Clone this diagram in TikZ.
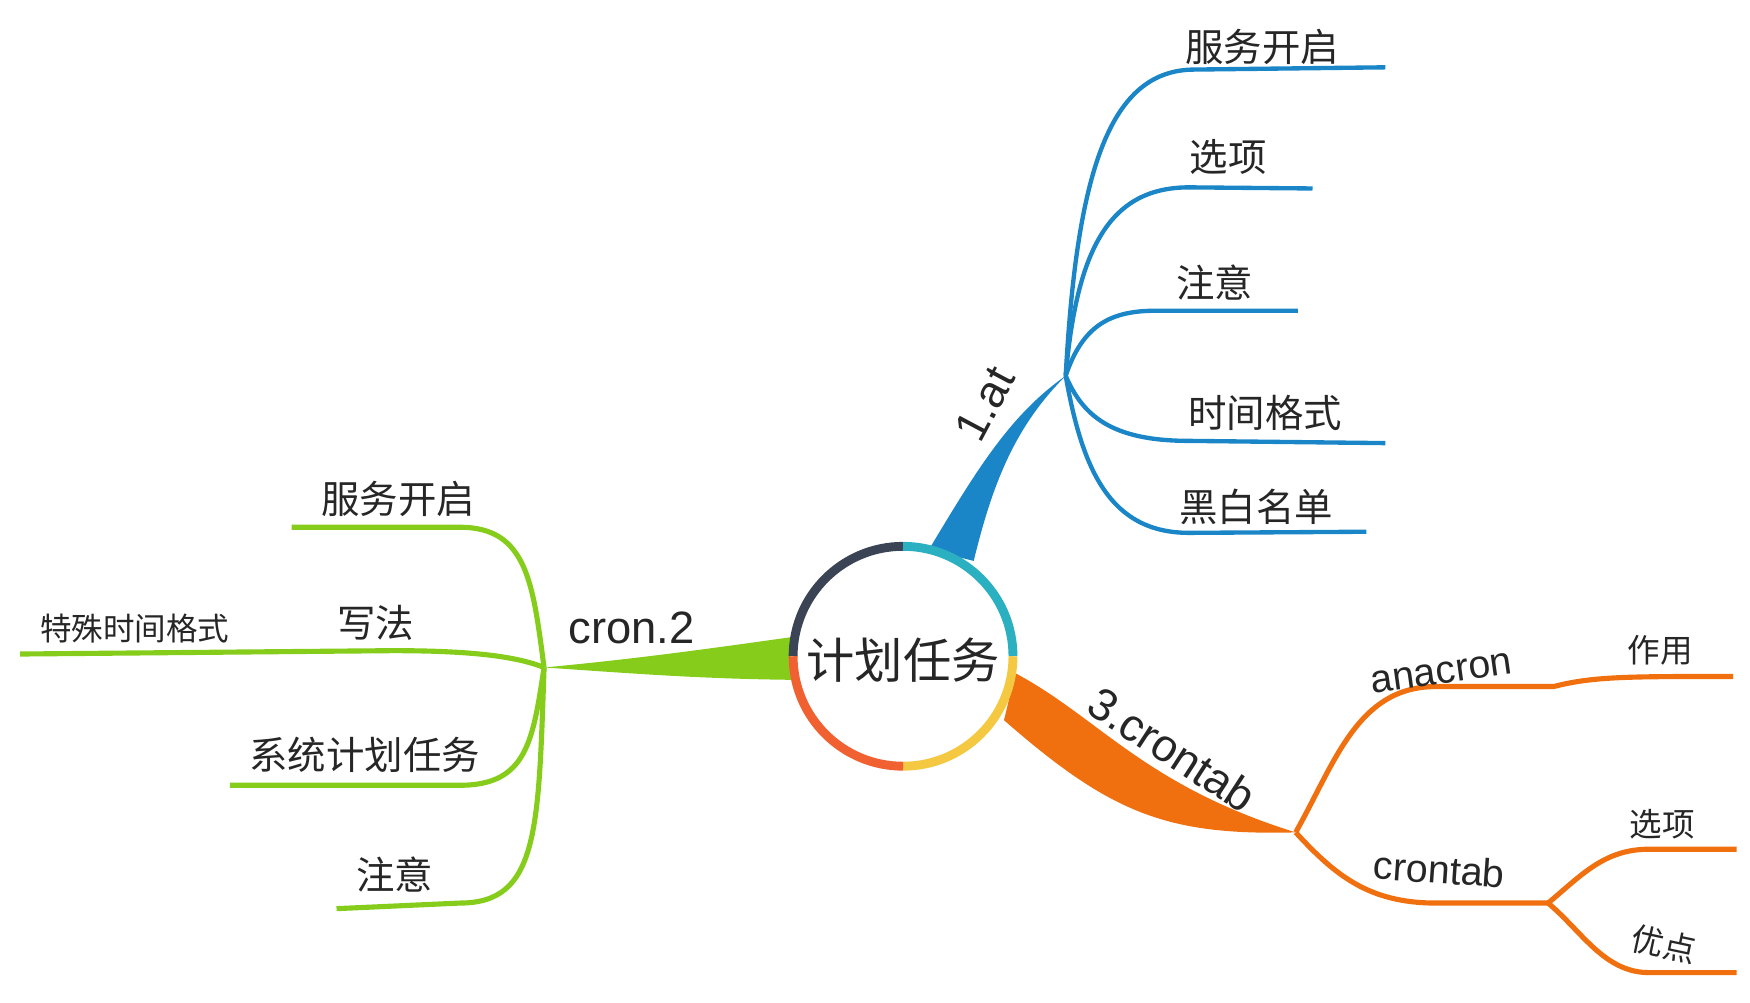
\documentclass[tikz,border=0pt]{standalone}
\usepackage{fontspec}
\setmainfont{Liberation Sans}
\newfontfamily\cjk{Noto Sans CJK SC}
\begin{document}
\begin{tikzpicture}[x=0.02cm,y=-0.02cm,
  bl/.style={draw=cBlue,line width=2.2pt},
  gr/.style={draw=cGreen,line width=2.6pt},
  og/.style={draw=cOrange,line width=2.6pt},
  zh/.style={font=\cjk\fontsize{19.5}{20}\selectfont,text=black!85},
  en/.style={font=\fontsize{23}{23}\selectfont,text=black!85}]
\definecolor{cBlue}{HTML}{1A86C8}
\definecolor{cGreen}{HTML}{86CC1A}
\definecolor{cOrange}{HTML}{F07010}
\useasboundingbox (0,0) rectangle (1560,894);
% hubs
\coordinate (hb) at (950,335);
\coordinate (hg) at (485,595);
\coordinate (ho) at (1155,742);
\coordinate (ho2) at (1380,805);
\coordinate (ha) at (1385,612);
% trunks
\fill[cBlue] (828,490) .. controls (870,420) and (900,370) .. (hb) .. controls (905,380) and (885,430) .. (868,500) -- cycle;
\fill[cGreen] (705,568) .. controls (620,580) and (560,588) .. (hg) .. controls (560,600) and (620,605) .. (705,606) -- cycle;
\fill[cOrange] (905,600) .. controls (980,640) and (1020,700) .. (ho) .. controls (1040,745) and (990,725) .. (895,642) -- cycle;
% centre
\node[circle,minimum size=200*0.02cm,inner sep=0pt,fill=white] (c) at (805,585) {};
\foreach \a/\b/\col in {90/180/3A4454,0/90/2AB0C0,-90/0/F5C842,-180/-90/F06030}{
  \definecolor{tmp}{HTML}{\col}
  \draw[tmp,line width=4.5pt] ([shift={(\a:98*0.02cm)}]805*0.02cm,-585*0.02cm) arc[start angle=\a,end angle=\b,radius=98*0.02cm];}
\node[font=\cjk\fontsize{24.5}{25}\selectfont,text=black!85] (ct) at (805,588) {计划任务};
% blue
\node[en,rotate=62] (l1) at (878,360) {1.at};
\draw[bl] (hb) .. controls (960,150) and (990,62) .. (1065,62) -- (1235,60);
\node[zh] (b1) at (1125,42) {服务开启};
\draw[bl] (hb) .. controls (960,220) and (990,167) .. (1060,167) -- (1170,168);
\node[zh] (b2) at (1095,140) {选项};
\draw[bl] (hb) .. controls (965,290) and (990,277) .. (1030,277) -- (1157,277);
\node[zh] (b3) at (1083,252) {注意};
\draw[bl] (hb) .. controls (965,370) and (990,393) .. (1060,393) -- (1235,395);
\node[zh] (b4) at (1128,368) {时间格式};
\draw[bl] (hb) .. controls (965,420) and (990,475) .. (1060,475) -- (1218,474);
\node[zh] (b5) at (1120,452) {黑白名单};
% green
\node[en] (l2) at (563,560) {cron.2};
\draw[gr] (hg) .. controls (475,520) and (470,470) .. (410,470) -- (260,470);
\node[zh] (g1) at (355,445) {服务开启};
\draw[gr] (hg) .. controls (460,585) and (420,580) .. (350,580) -- (18,583);
\node[zh] (g2) at (335,555) {写法};
\node[zh,font=\cjk\fontsize{16}{16}\selectfont] (g2b) at (120,560) {特殊时间格式};
\draw[gr] (hg) .. controls (475,660) and (470,700) .. (410,700) -- (205,700);
\node[zh] (g3) at (325,673) {系统计划任务};
\draw[gr] (hg) .. controls (480,740) and (480,805) .. (410,805) -- (300,810);
\node[zh] (g4) at (352,780) {注意};
% orange
\node[en,rotate=-33] (l3) at (1045,668) {3.crontab};
\draw[og] (ho) .. controls (1190,680) and (1210,612) .. (1280,612) -- (ha) .. controls (1420,603) and (1450,603) .. (1545,603);
\node[en,font=\fontsize{20}{20}\selectfont,rotate=8] (a1) at (1285,600) {anacron};
\node[zh,font=\cjk\fontsize{16.5}{17}\selectfont] (a2) at (1480,580) {作用};
\draw[og] (ho) .. controls (1190,780) and (1220,805) .. (1280,805) -- (ho2);
\node[en,font=\fontsize{20}{20}\selectfont,rotate=-4] (c1) at (1283,775) {crontab};
\draw[og] (ho2) .. controls (1410,780) and (1430,757) .. (1470,757) -- (1548,757);
\node[zh,font=\cjk\fontsize{16.5}{17}\selectfont] (c2) at (1482,735) {选项};
\draw[og] (ho2) .. controls (1410,830) and (1430,867) .. (1470,867) -- (1548,867);
\node[zh,font=\cjk\fontsize{16.5}{17}\selectfont,rotate=-12] (c3) at (1483,842) {优点};
\end{tikzpicture}
\end{document}
